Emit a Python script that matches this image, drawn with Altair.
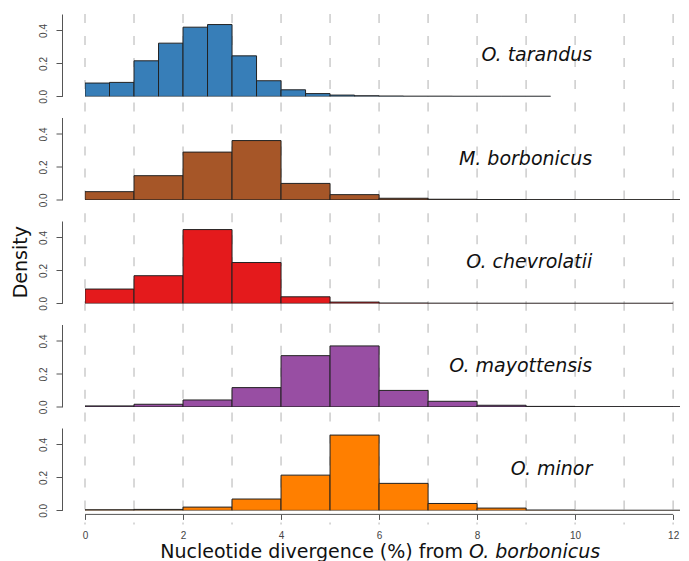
import altair as alt
import pandas as pd

# ---------------- data ----------------
species = ["O. tarandus", "M. borbonicus", "O. chevrolatii", "O. mayottensis", "O. minor"]
colors = ["#377EB8", "#A65628", "#E41A1C", "#984EA3", "#FF7F00"]
bin_widths = [0.5, 1, 1, 1, 1]

tarandus = [0.081, 0.085, 0.216, 0.323, 0.42, 0.436, 0.246, 0.095, 0.04, 0.017,
            0.008, 0.004, 0.002, 0.001, 0.001, 0.0005, 0.0005, 0.0005, 0.0005]
borbonicus = [0.05, 0.147, 0.29, 0.36, 0.10, 0.032, 0.01, 0.004, 0.002, 0.001,
              0.0005, 0.0005, 0.0005]
chevrolatii = [0.087, 0.168, 0.448, 0.248, 0.04, 0.008, 0.002, 0.001, 0.0005,
               0.0005, 0.0005, 0.0005]
mayottensis = [0.006, 0.016, 0.042, 0.117, 0.311, 0.37, 0.10, 0.034, 0.01, 0.003,
               0.001, 0.001, 0.0005]
minor = [0.004, 0.006, 0.02, 0.069, 0.214, 0.457, 0.164, 0.042, 0.014, 0.002,
         0.0005, 0.0005, 0.0005]
densities = [tarandus, borbonicus, chevrolatii, mayottensis, minor]

grid_lines = list(range(13))
x_ticks = [0, 2, 4, 6, 8, 10, 12]
y_ticks = [0, 0.1, 0.2, 0.3, 0.4, 0.5]

# ---------------- layout ----------------
W = 595
H = 82.4
GAP = 20.5
DASH = [9, 13]
PERIOD = sum(DASH)

xscale = alt.Scale(domain=[0, 12.14], nice=False, zero=False)
yscale = alt.Scale(domain=[0, 0.5], nice=False, zero=False)

yaxis = alt.Axis(
    values=y_ticks,
    labelExpr="round(datum.value*10) % 2 == 0 ? format(datum.value, '.1f') : ''",
    labelAngle=270, labelAlign="center", labelBaseline="bottom",
    tickSize=6, offset=23, labelPadding=8, grid=False, title=None,
    labelOverlap=False, labelFlush=False,
)
xaxis_bottom = alt.Axis(
    values=x_ticks, format="d", offset=4, tickSize=5, domain=False,
    labelPadding=11, grid=False, title=None, labelFlush=False, labelOverlap=False,
)

grid_df = pd.DataFrame({"g": grid_lines})

panels = []
n = len(species)
for i, (sp, col, bw, dens) in enumerate(zip(species, colors, bin_widths, densities)):
    df = pd.DataFrame({
        "start": [k * bw for k in range(len(dens))],
        "density": dens,
    })
    df["end"] = df["start"] + bw
    df["base"] = 0.0
    last = i == n - 1
    xax = xaxis_bottom if last else None

    top = 0 if i == 0 else -GAP
    bottom = H + 14 if last else H
    offset = 0 if i == 0 else (i * (H + GAP) - GAP) % PERIOD

    grid = alt.Chart(grid_df).mark_rule(
        color="#cccccc", strokeWidth=1.5, strokeDash=DASH, strokeDashOffset=offset
    ).encode(
        x=alt.X("g:Q", scale=xscale, axis=xax, title=None),
        y=alt.value(top), y2=alt.value(bottom),
    )
    bars = alt.Chart(df).mark_rect(
        fill=col, stroke="#222222", strokeWidth=1, clip=True
    ).encode(
        x=alt.X("start:Q", scale=xscale, axis=xax, title=None),
        x2="end:Q",
        y=alt.Y("density:Q", scale=yscale, axis=yaxis, title=None),
        y2="base:Q",
    )
    label = alt.Chart(df).transform_filter("datum.start == 0").mark_text(
        align="right", baseline="middle", font="DejaVu Sans",
        fontStyle="italic", fontSize=19, color="#111111"
    ).encode(
        x=alt.datum(10.35), y=alt.datum(0.25), text=alt.value(sp)
    )
    layers = [grid, bars, label]

    if i == 2:
        ytitle = alt.Chart(df).transform_filter("datum.start == 0").mark_text(
            angle=270, align="center", baseline="middle", font="DejaVu Sans",
            fontSize=19, color="#111111"
        ).encode(x=alt.value(-64), y=alt.value(H / 2), text=alt.value("Density"))
        layers.append(ytitle)

    if last:
        axis_line = alt.Chart(df).transform_filter("datum.start == 0").mark_rule(
            color="#555555", strokeWidth=1
        ).encode(x=alt.datum(0), x2=alt.datum(12), y=alt.value(H + 4))
        t1 = alt.Chart(df).transform_filter("datum.start == 0").mark_text(
            align="right", baseline="middle", font="DejaVu Sans", fontSize=19,
            color="#111111"
        ).encode(x=alt.value(378), y=alt.value(124),
                 text=alt.value("Nucleotide divergence (%) from"))
        t2 = alt.Chart(df).transform_filter("datum.start == 0").mark_text(
            align="left", baseline="middle", font="DejaVu Sans", fontSize=19,
            fontStyle="italic", color="#111111"
        ).encode(x=alt.value(384), y=alt.value(124), text=alt.value("O. borbonicus"))
        layers += [axis_line, t1, t2]

    panels.append(alt.layer(*layers).properties(width=W, height=H))

chart = alt.vconcat(*panels, spacing=GAP, bounds="flush").properties(
    padding={"left": 4, "top": 5, "right": 0, "bottom": 0}
).configure_view(stroke=None).configure_axis(
    labelFont="Liberation Sans", labelFontSize=10, labelColor="#444444",
    domainColor="#555555", tickColor="#555555", grid=False,
)

chart.save("out.html", embed_options={"renderer": "svg", "actions": False})
